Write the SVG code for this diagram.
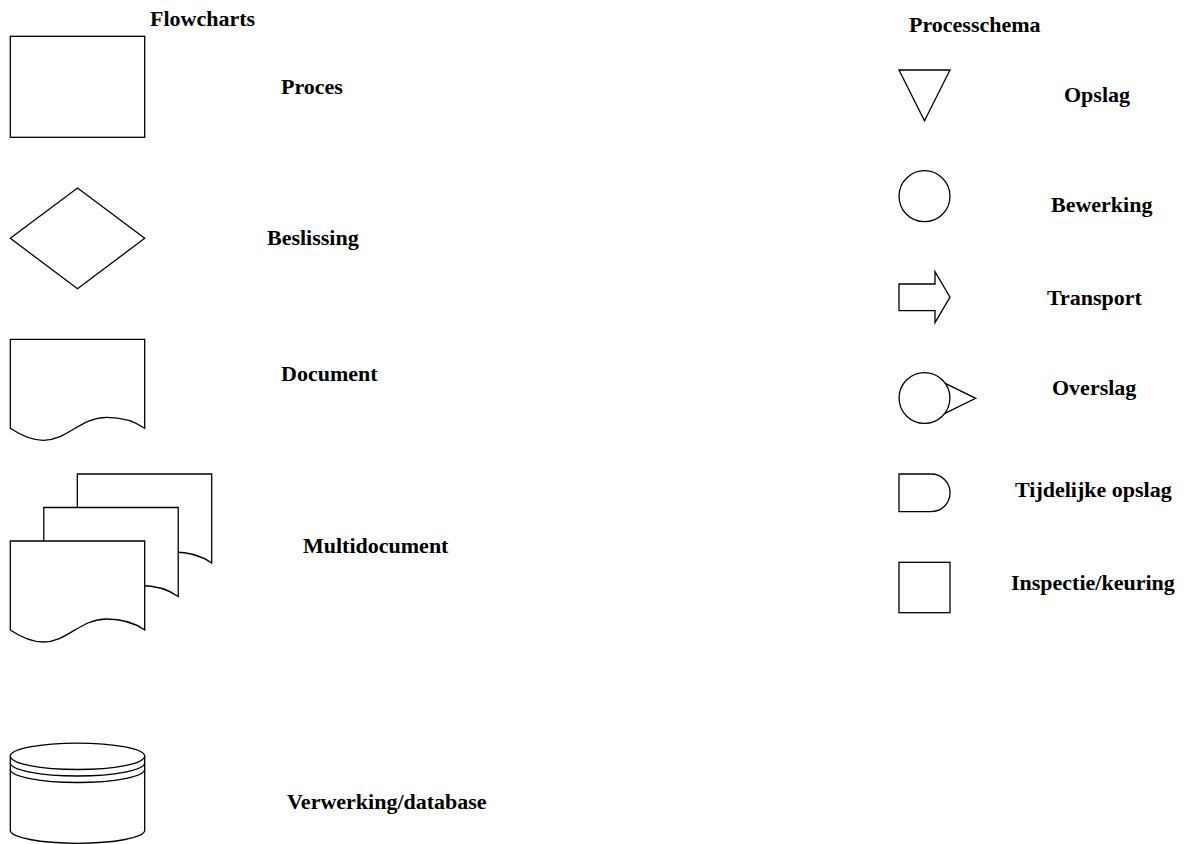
<svg xmlns="http://www.w3.org/2000/svg" xmlns:xlink="http://www.w3.org/1999/xlink" width="1187" height="844" viewBox="0 0 1187 844">
  <style>
    .shape { fill: #ffffff; stroke: #000000; stroke-width: 1.3; stroke-linejoin: miter; }
    .line { fill: none; stroke: #000000; stroke-width: 1.3; }
    .label { font-family: "Liberation Serif", "Times New Roman", serif; font-weight: bold; font-size: 22px; fill: #000000; }
  </style>
  <defs>
    <!-- document outline with wavy bottom edge, origin at top-left corner -->
    <path id="doc" d="M0,0 H134.4 V89 C126,83 114,78 96.4,78 C70,78 57,101 33,101 C20,101 9,95 0,89 Z"/>
  </defs>
  <rect width="1187" height="844" fill="#ffffff"/>

  <!-- Flowcharts column -->
  <text class="label" x="150" y="26">Flowcharts</text>

  <g id="proces">
    <rect class="shape" x="10.3" y="36.3" width="134.4" height="101"/>
    <text class="label" x="281" y="94">Proces</text>
  </g>

  <g id="beslissing">
    <polygon class="shape" points="77.5,188 144.7,238.3 77.5,288.7 10.3,238.3"/>
    <text class="label" x="267" y="245">Beslissing</text>
  </g>

  <g id="document">
    <use xlink:href="#doc" class="shape" x="10.3" y="339.3"/>
    <text class="label" x="281" y="381">Document</text>
  </g>

  <g id="multidocument">
    <use xlink:href="#doc" class="shape" x="77.3" y="474"/>
    <use xlink:href="#doc" class="shape" x="43.8" y="507.5"/>
    <use xlink:href="#doc" class="shape" x="10.3" y="541"/>
    <text class="label" x="303" y="553">Multidocument</text>
  </g>

  <g id="database">
    <path class="shape" d="M10.3,756.3 V830.3 A67.2,13 0 0 0 144.7,830.3 V756.3"/>
    <ellipse class="shape" cx="77.5" cy="756.3" rx="67.2" ry="13.2"/>
    <path class="line" d="M10.3,762.8 A67.2,13.2 0 0 0 144.7,762.8"/>
    <path class="line" d="M10.3,769.3 A67.2,13.2 0 0 0 144.7,769.3"/>
    <text class="label" x="287" y="809">Verwerking/database</text>
  </g>

  <!-- Processchema column -->
  <text class="label" x="909" y="31.5">Processchema</text>

  <g id="opslag">
    <polygon class="shape" points="899,70 950,70 924.5,120.7"/>
    <text class="label" x="1064" y="102">Opslag</text>
  </g>

  <g id="bewerking">
    <circle class="shape" cx="924.5" cy="196.2" r="25.5"/>
    <text class="label" x="1051" y="212">Bewerking</text>
  </g>

  <g id="transport">
    <polygon class="shape" points="899,284 935,284 935,271.7 950,297.2 935,322.7 935,310.7 899,310.7"/>
    <text class="label" x="1047" y="305">Transport</text>
  </g>

  <g id="overslag">
    <polygon class="shape" points="930,375.9 975.7,398.3 930,420.7"/>
    <circle class="shape" cx="924.5" cy="398" r="25.4"/>
    <text class="label" x="1052" y="395">Overslag</text>
  </g>

  <g id="tijdelijke-opslag">
    <path class="shape" d="M899,474 H931.2 A18.8,18.8 0 0 1 931.2,511.7 H899 Z"/>
    <text class="label" x="1015" y="497">Tijdelijke opslag</text>
  </g>

  <g id="inspectie">
    <rect class="shape" x="899" y="562.3" width="51" height="50.4"/>
    <text class="label" x="1011" y="590">Inspectie/keuring</text>
  </g>

  <!-- legend entries are not linked -->
  <g id="connectors"/>
</svg>
